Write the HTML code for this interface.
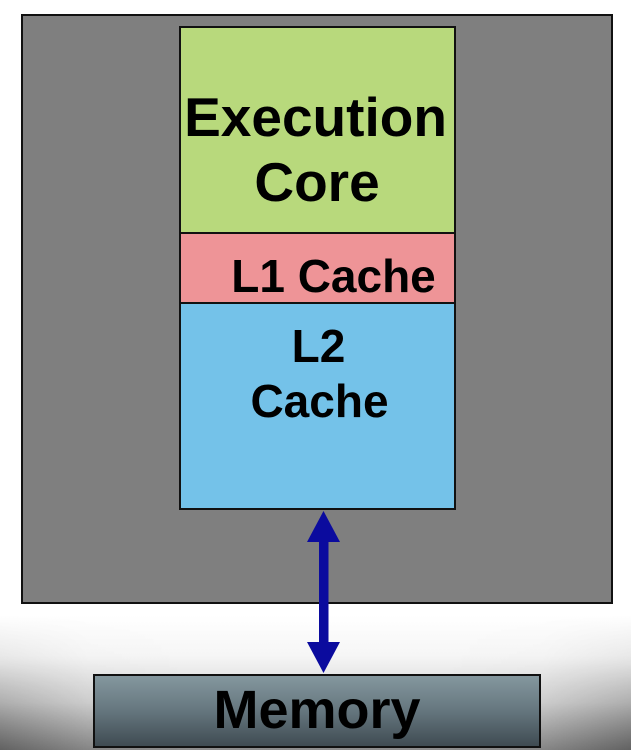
<!DOCTYPE html>
<html>
<head>
<meta charset="utf-8">
<style>
html,body{margin:0;padding:0;background:#fff;}
svg{display:block;}
text{font-family:"Liberation Sans",Arial,sans-serif;font-weight:bold;fill:#000;}
</style>
</head>
<body>
<svg width="631" height="750" viewBox="0 0 631 750" xmlns="http://www.w3.org/2000/svg">
  <defs>
    <linearGradient id="bgv" x1="0" y1="0" x2="0" y2="1">
      <stop offset="0" stop-color="#ffffff"/>
      <stop offset="0.3" stop-color="#f6f6f6"/>
      <stop offset="0.65" stop-color="#d2d2d2"/>
      <stop offset="1" stop-color="#8c8c8c"/>
    </linearGradient>
    <linearGradient id="edgeh" x1="0" y1="0" x2="1" y2="0">
      <stop offset="0" stop-color="#000" stop-opacity="0.3"/>
      <stop offset="0.14" stop-color="#000" stop-opacity="0.05"/>
      <stop offset="0.3" stop-color="#000" stop-opacity="0"/>
      <stop offset="0.7" stop-color="#000" stop-opacity="0"/>
      <stop offset="0.86" stop-color="#000" stop-opacity="0.05"/>
      <stop offset="1" stop-color="#000" stop-opacity="0.3"/>
    </linearGradient>
    <linearGradient id="maskv" x1="0" y1="0" x2="0" y2="1">
      <stop offset="0" stop-color="#000"/>
      <stop offset="0.35" stop-color="#333"/>
      <stop offset="1" stop-color="#fff"/>
    </linearGradient>
    <mask id="m1">
      <rect x="0" y="615" width="631" height="135" fill="url(#maskv)"/>
    </mask>
    <linearGradient id="mem" x1="0" y1="0" x2="0" y2="1">
      <stop offset="0" stop-color="#85989f"/>
      <stop offset="0.5" stop-color="#65767e"/>
      <stop offset="1" stop-color="#3e4a51"/>
    </linearGradient>
  </defs>

  <!-- background -->
  <rect x="0" y="0" width="631" height="750" fill="#ffffff"/>
  <rect x="0" y="615" width="631" height="135" fill="url(#bgv)"/>
  <rect x="0" y="615" width="631" height="135" fill="url(#edgeh)" mask="url(#m1)"/>

  <!-- outer chip box -->
  <rect x="22" y="15" width="590" height="588" fill="#7f7f7f" stroke="#111" stroke-width="2"/>

  <!-- column -->
  <rect x="180" y="27" width="275" height="206" fill="#b8d97c"/>
  <rect x="180" y="233" width="275" height="70" fill="#ee9497"/>
  <rect x="180" y="303" width="275" height="206" fill="#74c2e9"/>
  <line x1="180" y1="233" x2="455" y2="233" stroke="#111" stroke-width="2"/>
  <line x1="180" y1="303" x2="455" y2="303" stroke="#111" stroke-width="2"/>
  <rect x="180" y="27" width="275" height="482" fill="none" stroke="#111" stroke-width="2"/>

  <!-- labels -->
  <text x="315.5" y="136" font-size="55" text-anchor="middle">Execution</text>
  <text x="317" y="201" font-size="55" text-anchor="middle">Core</text>
  <text x="333.5" y="292" font-size="46" text-anchor="middle">L1 Cache</text>
  <text x="318.5" y="362" font-size="46" text-anchor="middle">L2</text>
  <text x="319.5" y="417" font-size="46" text-anchor="middle">Cache</text>

  <!-- arrow -->
  <rect x="319" y="538" width="9.5" height="108" fill="#0b0b9e"/>
  <polygon points="323.5,511 307,542 340,542" fill="#0b0b9e"/>
  <polygon points="307,642 340,642 323.5,673" fill="#0b0b9e"/>

  <!-- memory -->
  <rect x="94" y="675" width="446" height="72" fill="url(#mem)" stroke="#111" stroke-width="2"/>
  <text x="317" y="728" font-size="54" text-anchor="middle">Memory</text>
</svg>
</body>
</html>
